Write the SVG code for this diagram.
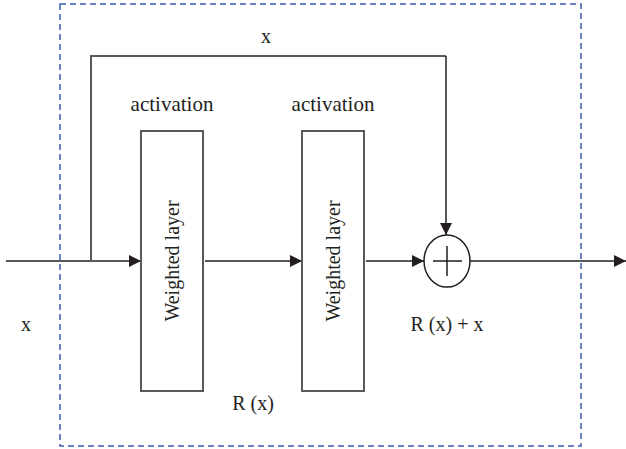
<svg xmlns="http://www.w3.org/2000/svg" width="626" height="449" viewBox="0 0 626 449">
<style>
.t{font-family:"Liberation Serif","Times New Roman",serif;font-size:20px;fill:#231f20}
.box{fill:#fff;stroke:#58595b;stroke-width:2}
.ln{fill:none;stroke:#231f20;stroke-width:1.5}
.sk{fill:none;stroke:#58595b;stroke-width:2}
</style>
<defs>
<marker id="ah" viewBox="0 0 12 12" refX="12" refY="6" markerWidth="12" markerHeight="12" markerUnits="userSpaceOnUse" orient="auto">
<path d="M0,0 L12,6 L0,12 Z" fill="#231f20"/>
</marker>
</defs>
<rect x="60" y="4" width="521" height="442" fill="none" stroke="#3d5bb0" stroke-width="1.5" stroke-dasharray="6,4"/>
<g id="connectors">
<path class="ln" d="M6,261 H141" marker-end="url(#ah)"/>
<path class="sk" d="M91,261 V56 H446"/>
<path class="ln" d="M446,56 V235" marker-end="url(#ah)"/>
<path class="ln" d="M205,261 H302" marker-end="url(#ah)"/>
<path class="ln" d="M366,261 H424" marker-end="url(#ah)"/>
<path class="ln" d="M470,261 H626" marker-end="url(#ah)"/>
</g>
<g id="layer1">
<rect class="box" x="141" y="131" width="62" height="260"/>
<text class="t" font-family="Liberation Serif, serif" text-anchor="middle" transform="translate(179,261) rotate(-90)">Weighted layer</text>
</g>
<g id="layer2">
<rect class="box" x="302" y="131" width="62" height="260"/>
<text class="t" font-family="Liberation Serif, serif" text-anchor="middle" transform="translate(340,261) rotate(-90)">Weighted layer</text>
</g>
<g id="sum">
<ellipse cx="447" cy="261" rx="23" ry="26" fill="#fff" stroke="#231f20" stroke-width="1.5"/>
<path d="M433,261 H462 M447,246 V276" stroke="#231f20" stroke-width="1.5"/>
</g>
<g id="labels">
<text class="t" x="266" y="43" text-anchor="middle">x</text>
<text class="t" x="172" y="111" text-anchor="middle" style="font-size:21px">activation</text>
<text class="t" x="333" y="111" text-anchor="middle" style="font-size:21px">activation</text>
<text class="t" x="26" y="331" text-anchor="middle">x</text>
<text class="t" x="253" y="410" text-anchor="middle">R (x)</text>
<text class="t" x="447" y="331" text-anchor="middle">R (x) + x</text>
</g>
</svg>
